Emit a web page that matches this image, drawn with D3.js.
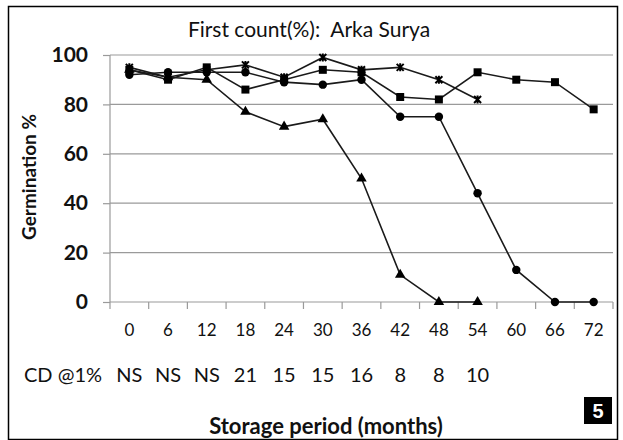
<!DOCTYPE html>
<html>
<head>
<meta charset="utf-8">
<script src="https://cdn.jsdelivr.net/npm/d3@7"></script>
<style>
  body { margin: 0; background: #fff; }
  text { font-family: Lato, "Open Sans", sans-serif; fill: #111; white-space: pre; }
</style>
</head>
<body>
<div class="chart"></div>
<script>
// storage period (months) and critical difference row
var months = ["0", "6", "12", "18", "24", "30", "36", "42", "48", "54", "60", "66", "72"];
var cdLabels = ["NS", "NS", "NS", "21", "15", "15", "16", "8", "8", "10"];
var yTicks = [0, 20, 40, 60, 80, 100];

// germination % per series
var triangleVals = [94, 91, 90, 77, 71, 74, 50, 11, 0, 0];
var circleVals   = [92, 93, 93, 93, 89, 88, 90, 75, 75, 44, 13, 0, 0];
var squareVals   = [94, 90, 95, 86, 90, 94, 93, 83, 82, 93, 90, 89, 78];
var starVals     = [95, 91, 94, 96, 91, 99, 94, 95, 90, 82];

var width = 623, height = 440;

var svg = d3.select(".chart")
    .append("svg")
    .attr("width", width)
    .attr("height", height);

// frame
svg.append("rect")
    .attr("x", 8.5).attr("y", 6.5)
    .attr("width", 609).attr("height", 433)
    .attr("fill", "none")
    .attr("stroke", "#000")
    .attr("stroke-width", 1.5);

var x = d3.scaleBand()
    .domain(months)
    .range([110, 613]);

var y = d3.scaleLinear()
    .domain([0, 100])
    .range([302, 55]);

// gridlines
svg.append("g")
    .selectAll("line")
    .data(yTicks.slice(1))
    .enter().append("line")
    .attr("x1", 110).attr("x2", 613)
    .attr("y1", function (d) { return y(d); })
    .attr("y2", function (d) { return y(d); })
    .attr("stroke", "#9a9a9a")
    .attr("stroke-width", 1.2);

// y axis
var yAxis = svg.append("g")
    .attr("transform", "translate(110,0)")
    .call(d3.axisLeft(y).tickValues(yTicks).tickSize(7).tickPadding(15));
yAxis.selectAll("line, path").attr("stroke", "#9a9a9a").attr("stroke-width", 1.2);
yAxis.select(".domain").attr("d", "M0," + y(0) + "V" + y(100));
yAxis.selectAll("text")
    .style("font-family", "Lato, sans-serif")
    .style("font-size", "21px")
    .style("font-weight", "bold")
    .attr("fill", "#111");

// x axis: ticks between categories
var xAxisG = svg.append("g");
xAxisG.append("line")
    .attr("x1", 110).attr("x2", 613)
    .attr("y1", y(0)).attr("y2", y(0))
    .attr("stroke", "#9a9a9a").attr("stroke-width", 1.2);
xAxisG.selectAll(".tk")
    .data(months.concat(["end"]))
    .enter().append("line")
    .attr("class", "tk")
    .attr("x1", function (d, i) { return 110 + i * x.step(); })
    .attr("x2", function (d, i) { return 110 + i * x.step(); })
    .attr("y1", y(0)).attr("y2", y(0) + 7)
    .attr("stroke", "#9a9a9a").attr("stroke-width", 1.2);

xAxisG.selectAll(".lbl")
    .data(months)
    .enter().append("text")
    .attr("class", "lbl")
    .attr("x", function (d) { return x(d) + x.bandwidth() / 2; })
    .attr("y", 330)
    .attr("dy", "0.35em")
    .attr("text-anchor", "middle")
    .style("font-size", "17px")
    .text(function (d) { return d; });

// CD row
svg.append("text")
    .attr("x", 24).attr("y", 375).attr("dy", "0.35em")
    .style("font-size", "20px")
    .text("CD @1%");
svg.selectAll(".cd")
    .data(cdLabels)
    .enter().append("text")
    .attr("class", "cd")
    .attr("x", function (d, i) { return x(months[i]) + x.bandwidth() / 2; })
    .attr("y", 375).attr("dy", "0.35em")
    .attr("text-anchor", "middle")
    .style("font-size", "20px")
    .text(function (d) { return d; });

// titles
svg.append("text")
    .attr("x", 309).attr("y", 30).attr("dy", "0.35em")
    .attr("text-anchor", "middle")
    .style("font-size", "21px")
    .text("First count(%):  Arka Surya");

svg.append("text")
    .attr("x", 326).attr("y", 426).attr("dy", "0.35em")
    .attr("text-anchor", "middle")
    .style("font-size", "22px")
    .style("font-weight", "bold")
    .text("Storage period (months)");

svg.append("text")
    .attr("transform", "translate(29,177) rotate(-90)")
    .attr("dy", "0.35em")
    .attr("text-anchor", "middle")
    .style("font-size", "19px")
    .style("font-weight", "bold")
    .text("Germination %");

// panel number
svg.append("rect")
    .attr("x", 584).attr("y", 397)
    .attr("width", 28).attr("height", 27)
    .attr("fill", "#000");
svg.append("text")
    .attr("x", 598).attr("y", 411).attr("dy", "0.36em")
    .attr("text-anchor", "middle")
    .style("font-family", "'Liberation Sans', Arial, sans-serif")
    .style("font-size", "20px")
    .style("font-weight", "bold")
    .style("fill", "#fff")
    .text("5");

// series
var line = d3.line()
    .x(function (d, i) { return x(months[i]) + x.bandwidth() / 2; })
    .y(function (d) { return y(d); });

var starPath = "M-3.5,-3.5L3.5,3.5M-3.5,3.5L3.5,-3.5M0,-4V4";

var series = [
    { vals: starVals, sym: "star" },
    { vals: squareVals, sym: d3.symbol().type(d3.symbolSquare).size(64)() },
    { vals: circleVals, sym: d3.symbol().type(d3.symbolCircle).size(56)() },
    { vals: triangleVals, sym: d3.symbol().type(d3.symbolTriangle).size(48)() }
];

series.forEach(function (s) {
    svg.append("path")
        .attr("d", line(s.vals))
        .attr("fill", "none")
        .attr("stroke", "#1a1a1a")
        .attr("stroke-width", 1.6);

    svg.append("g")
        .selectAll("path")
        .data(s.vals)
        .enter().append("path")
        .attr("transform", function (d, i) {
            return "translate(" + (x(months[i]) + x.bandwidth() / 2) + "," + y(d) + ")";
        })
        .attr("d", s.sym === "star" ? starPath : s.sym)
        .attr("fill", "#000")
        .attr("stroke", s.sym === "star" ? "#000" : "none")
        .attr("stroke-width", 2);
});
</script>
</body>
</html>
